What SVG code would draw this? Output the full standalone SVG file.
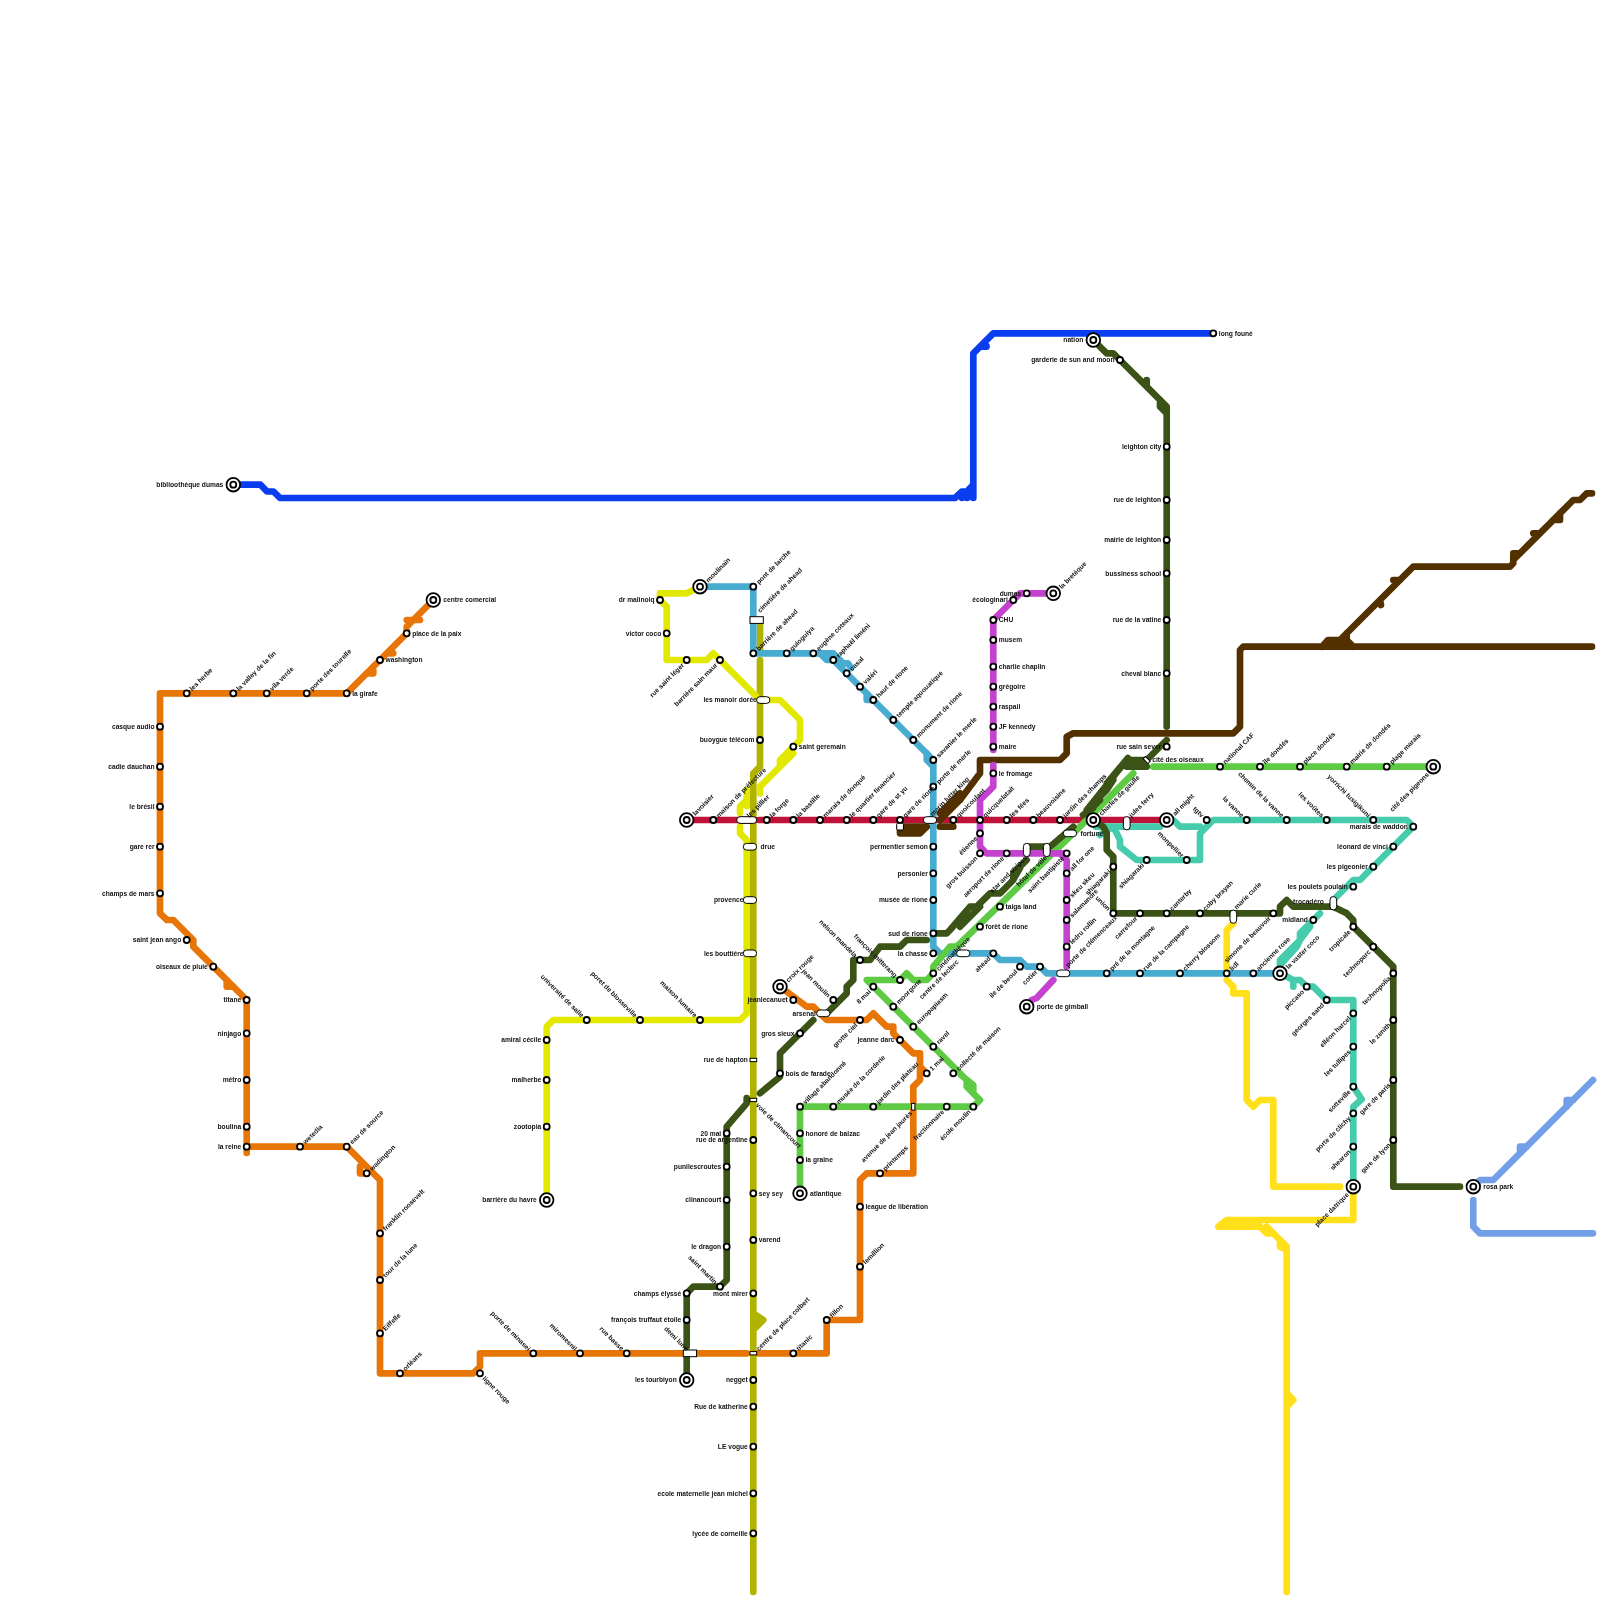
<svg xmlns="http://www.w3.org/2000/svg" width="1600" height="1600" viewBox="0 0 1600 1600">
<style>
.l{fill:none;stroke-width:6.67;stroke-linejoin:round;stroke-linecap:round}
.or{stroke:#e87508}.ly{stroke:#e3e800}.ol{stroke:#b0b300}.cy{stroke:#48abd0}.cr{stroke:#be1238}.br{stroke:#523000}.dg{stroke:#3b5317}.gr{stroke:#5fcb44}.te{stroke:#46cbac}.ma{stroke:#c343cf}.ye{stroke:#ffe01b}.bl{stroke:#0a3cf0}.lb{stroke:#729fe8}
.s{fill:#fff;stroke:#000;stroke-width:1.8}
.p{fill:#fff;stroke:#000;stroke-width:1}
#nodes{opacity:.999}
text{font-family:"Liberation Sans",Arial,sans-serif;font-size:6.67px;font-weight:bold;fill:#111}
.R{transform:translate(5.5px,2.4px)}
.L{text-anchor:end;transform:translate(-5.5px,2.4px)}
.UR{transform:translate(5.6px,-2.1px) rotate(-45deg)}
.DL{text-anchor:end;transform:translate(-2.1px,5.6px) rotate(-45deg)}
.UL{text-anchor:end;transform:translate(-5.6px,-2.1px) rotate(45deg)}
.DR{transform:translate(2.1px,5.6px) rotate(45deg)}
.TR{transform:translate(10px,2.4px)}
.TL{text-anchor:end;transform:translate(-10px,2.4px)}
.TUR{transform:translate(8.5px,-4px) rotate(-45deg)}
.TDL{text-anchor:end;transform:translate(-4px,8.5px) rotate(-45deg)}
</style>
<defs>
<circle id="s" class="s" r="3"/>
<g id="T"><circle class="s" r="6.8"/><circle class="s" r="3"/></g>
<rect id="ph" class="p" x="-6.7" y="-3.3" width="13.3" height="6.7" rx="3.3"/>
<rect id="pv" class="p" x="-3.3" y="-6.7" width="6.7" height="13.3" rx="3.3"/>
<rect id="r2" class="p" x="-3.3" y="-1.7" width="6.7" height="3.3"/>
</defs>
<g id="connectors">
<path id="line-royal" class="l bl" d="M233.3 484.7H260.5L267 491.5H273.5L280 498H955L962 491.5H967L973 485M973.3 498V353.3L980 346.7H986.5V346M980 346.7L993.3 333.3H1213.3M962 491.5V498M967 491.5V498"/>
<path id="line-lightblue" class="l lb" d="M1473.3 1186.7L1480 1180H1493.3L1593 1080M1520 1153.3V1146.7H1526.7M1566.7 1106.7V1100H1573.3M1473.3 1200V1226.7L1480 1233.3H1593"/>
<path id="line-olive" class="l ol" d="M760 623V650M760 660V766.7L753.3 773.3V1592M753.3 1313.3L763.3 1320L753.3 1330M756 1320H760"/>
<path id="line-lime" class="l ly" d="M700 586.7L686.7 593.3H660V600L666.7 606.7V660H706.7L713.3 653.3L720 660L756 696M766 700H780L800 720V740L780 760V766.7L760 786.7V793.3M793.3 753.3L776.7 770M746.7 790V800L740 806.7V813M746.7 800V806M740 826.7V833.3L746.7 840V1013.3L740 1020H553.3L546.7 1026.7V1200"/>
<path id="line-cyan" class="l cy" d="M700 586.7H753.3V653.3H833.3L843.3 663.3H848L851 668M820 653.3L826.7 660H833.3L933.3 760V946.7M866.7 693.3V700H873.3M926.7 753.3V760L933.3 766.7M933.3 946.7L940 953.3H993.3L1000 960H1020L1026.7 966.7H1040L1046.7 973.3H1058M1068 973.3H1280"/>
<path id="line-crimson" class="l cr" d="M686.7 820H755M759 820H925M938 820H1083M1093.3 820H1166.7"/>
<path id="line-brown" class="l br" d="M900 826.7V833.3H920L926.7 826.7M900 826.7H926.7M940 826.7H953.3M940 813.3L960 793.3V800M940 820L960 800L980 773.3V760H1060L1066.7 753.3V736.7L1073.3 733.3H1233.3L1240 726.7V650L1243.3 646.7H1592M1322 646.7L1328 640H1346.7M1340 640L1413.3 566.7H1510L1513.3 563.3V553.3M1513.3 560L1573.3 500H1580L1586.7 493.3H1592M1346.7 633.3V640L1353.3 646.7M1393.3 580H1400M1381 605L1380 600M1513.3 553.3H1520M1533.3 533.3H1540M1560 520V513.3M1553.3 520H1560"/>
<path id="line-green1" class="l gr" d="M1153.3 766.7H1433.3M1133.3 773.3L1080 826.7L956.7 946.7H950L933.3 966.7V973.3L926.7 980H913.3L906.7 973.3L900 980H866.7L966.7 1080V1086.7L980 1100L973.3 1106.7H800V1193.3M961 1075L973.3 1085V1093.3L980 1100"/>
<path id="line-teal" class="l te" d="M1096 826.7H1160M1100 835L1113.3 826.7L1116.7 833.3L1120 840V846.7L1136.7 860H1200V833.3L1213.3 820H1406.7L1413.3 826.7L1360 880H1353.3L1333.3 900M1173.3 820L1180 826.7H1200M1320 913.3L1300 933.3V940L1280 960V973.3M1310 926.7L1300 940L1296.7 946.7L1281.7 963.3M1280 973.3L1293.3 980H1300L1306.7 986.7H1313.3L1320 993.3L1326.7 1000H1353.3V1086.7L1361.7 1099.3L1353.3 1106.7V1186.7M1293.3 980V986.7"/>
<path id="line-magenta" class="l ma" d="M1053.3 593.3H1020L993.3 620V750M993.3 765V786.7L980 800V846.7L986.5 853.3H1063M1060 853.3L1066.7 860V966.7M1053.3 980L1036.7 998L1031.7 1000"/>
<path id="line-yellow" class="l ye" d="M1233.3 923.3L1226.7 930V973.3M1226.7 980L1233.3 986.7V993.3H1246.7V1100L1253.3 1106.7L1260 1100H1273.3V1186.7H1340M1353.3 1193.3V1220H1226.7L1218.3 1226.7H1260L1266.7 1233.3H1273.3L1280 1240V1246.7L1286.7 1250V1592M1286.7 1393L1293.3 1400L1286.7 1406.7M1289 1400H1291M1266.7 1226.7L1286.7 1246.7"/>
<path id="line-orange" class="l or" d="M433.3 600L406.7 626.7V633.3L380 660L346.7 693.3H160V913.3L167 920H173.3L193.3 940V946.7L246.7 1000V1153M420 620H406.7M393.3 653.3H386.7M373.3 673.3H366.7M373.3 666.7V673.3M226.7 980V986.7H233.3M246.7 1146.7H340L346.7 1146.7L380 1180V1373.3H473.3L480 1366.7V1353.3H747M758 1353.3H826.7V1320H860V1180L866.7 1173.3H913.3V1110M913.3 1103V1086.7L920 1080V1053.3H913.3L893.3 1033.3V1026.7H886.7L873.3 1013.3L866.7 1020H826.7L813.3 1006.7H806.7L780 986.7M360 1166.7V1173.3H366.7M920 1066.7L926.7 1073.3"/>
<path id="line-dark" class="l dg" d="M1093.3 340L1106.7 353.3H1113.3L1120 360L1146.7 386.7V380M1146.7 386.7L1166.7 406.7V726.7M1160 400V406.7L1166.7 413.3M1166.7 740L1146.7 760H1126.7L1086.7 810M1126.7 766.7H1146.7M1128 758L1106.7 783.3V790L1093.3 803.3V808L1083 815M1113.3 780L1106.7 790M1100 800L1093.3 806.7M1093.3 820L1103.3 826.7L1106.7 833.3V850L1113.3 856.7V913.3H1280V906.7L1286.7 900L1293.3 906.7H1333.3L1346.7 913.3L1353.3 920V926.7L1393.3 966.7V1186.7H1460M1073.3 826.7L1050 846.7H1030M1026.7 860L1013.3 873.3V880L1000 893.3H990L976.7 906.7H970L950 930L946.7 933.3H933.3M1020 868L1013 880M980 906.7L960 926.7M926.7 940H906.7L900 946.7H880L870 960H853.3V980L846.7 986.7V993.3L826.7 1013.3M813.3 1020L780 1053.3V1076.7L760 1093.3M746.7 1098V1103.3L726.7 1126.7V1280L720 1286.7H693.3L686.7 1293.3V1346.7M686.7 1357V1380"/>
</g>
<g id="nodes">
<g id="n001" transform="translate(233.3 484.7)"><use href="#T"/><text class="TL">biblioothèque dumas</text></g>
<g id="n002" transform="translate(1093.3 340)"><use href="#T"/><text class="TL">nation</text></g>
<g id="n003" transform="translate(1213.3 333.3)"><use href="#s"/><text class="R">long founé</text></g>
<g id="n004" transform="translate(1120 360)"><use href="#s"/><text class="L">garderie de sun and moon</text></g>
<g id="n005" transform="translate(1166.7 446.7)"><use href="#s"/><text class="L">leighton city</text></g>
<g id="n006" transform="translate(1166.7 500)"><use href="#s"/><text class="L">rue de leighton</text></g>
<g id="n007" transform="translate(1166.7 540)"><use href="#s"/><text class="L">mairie de leighton</text></g>
<g id="n008" transform="translate(1166.7 573.3)"><use href="#s"/><text class="L">bussiness school</text></g>
<g id="n009" transform="translate(1166.7 620)"><use href="#s"/><text class="L">rue de la vatine</text></g>
<g id="n010" transform="translate(1166.7 673.3)"><use href="#s"/><text class="L">cheval blanc</text></g>
<g id="n011" transform="translate(1166.7 746.7)"><use href="#s"/><text class="L">rue sain sever</text></g>
<g id="n012" transform="translate(1146.7 760)"><rect class="p" x="-1.7" y="-3.3" width="3.3" height="6.7" transform="rotate(-45)"/><text class="R">cité des oiseaux</text></g>
<g id="n013" transform="translate(660 600)"><use href="#s"/><text class="L">dr malinoiq</text></g>
<g id="n014" transform="translate(666.7 633.3)"><use href="#s"/><text class="L">victor coco</text></g>
<g id="n015" transform="translate(686.7 660)"><use href="#s"/><text class="DL">rue saint léger</text></g>
<g id="n016" transform="translate(720 660)"><use href="#s"/><text class="DL">barrière sain maur</text></g>
<g id="n017" transform="translate(700 586.7)"><use href="#T"/><text class="TUR">moulinain</text></g>
<g id="n018" transform="translate(753.3 586.7)"><use href="#s"/><text class="UR">pont de larche</text></g>
<g id="n019" transform="translate(756.7 620)"><rect class="p" x="-6.7" y="-3.3" width="13.3" height="6.7"/><text class="UR" x="2" y="-5">cimetière de ahead</text></g>
<g id="n020" transform="translate(753.3 653.3)"><use href="#s"/><text class="UR">barrière de ahead</text></g>
<g id="n021" transform="translate(786.7 653.3)"><use href="#s"/><text class="UR">guioguiya</text></g>
<g id="n022" transform="translate(813.3 653.3)"><use href="#s"/><text class="UR">eugène coteaux</text></g>
<g id="n023" transform="translate(833.3 660)"><use href="#s"/><text class="UR">raphaël liméni</text></g>
<g id="n024" transform="translate(846.7 673.3)"><use href="#s"/><text class="UR">casal</text></g>
<g id="n025" transform="translate(860 686.7)"><use href="#s"/><text class="UR">valéri</text></g>
<g id="n026" transform="translate(873.3 700)"><use href="#s"/><text class="UR">haut de rione</text></g>
<g id="n027" transform="translate(893.3 720)"><use href="#s"/><text class="UR">temple aquouatique</text></g>
<g id="n028" transform="translate(913.3 740)"><use href="#s"/><text class="UR">monument de rione</text></g>
<g id="n029" transform="translate(933.3 760)"><use href="#s"/><text class="UR">savanier le merle</text></g>
<g id="n030" transform="translate(933.3 786.7)"><use href="#s"/><text class="UR">porte de merle</text></g>
<g id="n031" transform="translate(763.3 700)"><use href="#ph"/><text class="L" x="-1">les manoir dorée</text></g>
<g id="n032" transform="translate(760 740)"><use href="#s"/><text class="L">buoygue télécom</text></g>
<g id="n033" transform="translate(793.3 746.7)"><use href="#s"/><text class="R">saint geremain</text></g>
<g id="n034" transform="translate(686.7 820)"><use href="#T"/><text class="TUR">lavoisier</text></g>
<g id="n035" transform="translate(713.3 820)"><use href="#s"/><text class="UR">maison de préfecture</text></g>
<g id="n036" transform="translate(746.7 820)"><rect class="p" x="-10" y="-3.3" width="20" height="6.7" rx="3.3"/><text class="UR" x="-2" y="-2">les pillier</text></g>
<g id="n037" transform="translate(766.7 820)"><use href="#s"/><text class="UR">la forge</text></g>
<g id="n038" transform="translate(793.3 820)"><use href="#s"/><text class="UR">la bastille</text></g>
<g id="n039" transform="translate(820 820)"><use href="#s"/><text class="UR">marais de donqué</text></g>
<g id="n040" transform="translate(846.7 820)"><use href="#s"/><text class="UR">le quartier financier</text></g>
<g id="n041" transform="translate(873.3 820)"><use href="#s"/><text class="UR">gare de st yu</text></g>
<g id="n042" transform="translate(900 820)"><use href="#s"/><rect class="p" x="-3.3" y="3.3" width="6.7" height="6.7" rx="1"/><text class="UR">gare de rione</text></g>
<g id="n043" transform="translate(930 820)"><use href="#ph"/><text class="UR" x="-1" y="-3">marin lutter king</text></g>
<g id="n044" transform="translate(953.3 820)"><use href="#s"/><text class="UR">quoicoulant</text></g>
<g id="n045" transform="translate(750 846.7)"><use href="#ph"/><text class="R" x="5">drue</text></g>
<g id="n046" transform="translate(933.3 846.7)"><use href="#s"/><text class="L">permentier semon</text></g>
<g id="n047" transform="translate(933.3 873.3)"><use href="#s"/><text class="L">personier</text></g>
<g id="n048" transform="translate(933.3 900)"><use href="#s"/><text class="L">musée de rione</text></g>
<g id="n049" transform="translate(933.3 933.3)"><use href="#s"/><text class="L">sud de rione</text></g>
<g id="n050" transform="translate(933.3 953.3)"><use href="#s"/><text class="L">la chasse</text></g>
<g id="n051" transform="translate(933.3 973.3)"><use href="#s"/><text class="UR">cinémathèque</text></g>
<g id="n052" transform="translate(963.3 953.3)"><use href="#ph"/><text class="DL" x="-4" y="1">centre de leclerc</text></g>
<g id="n053" transform="translate(750 900)"><use href="#ph"/><text class="L" x="-1">provence</text></g>
<g id="n054" transform="translate(750 953.3)"><use href="#ph"/><text class="L" x="-1">les bouttiére</text></g>
<g id="n055" transform="translate(1053.3 593.3)"><use href="#T"/><text class="TUR">la bretèque</text></g>
<g id="n056" transform="translate(1026.7 593.3)"><use href="#s"/><text class="L">dumas</text></g>
<g id="n057" transform="translate(1013.3 600)"><use href="#s"/><text class="L">écologinari</text></g>
<g id="n058" transform="translate(993.3 620)"><use href="#s"/><text class="R">CHU</text></g>
<g id="n059" transform="translate(993.3 640)"><use href="#s"/><text class="R">musem</text></g>
<g id="n060" transform="translate(993.3 666.7)"><use href="#s"/><text class="R">charlie chaplin</text></g>
<g id="n061" transform="translate(993.3 686.7)"><use href="#s"/><text class="R">grégoire</text></g>
<g id="n062" transform="translate(993.3 706.7)"><use href="#s"/><text class="R">raspail</text></g>
<g id="n063" transform="translate(993.3 726.7)"><use href="#s"/><text class="R">JF kennedy</text></g>
<g id="n064" transform="translate(993.3 746.7)"><use href="#s"/><text class="R">maire</text></g>
<g id="n065" transform="translate(993.3 773.3)"><use href="#s"/><text class="R">le fromage</text></g>
<g id="n066" transform="translate(980 820)"><use href="#s"/><text class="UR">quicquelatait</text></g>
<g id="n067" transform="translate(1006.7 820)"><use href="#s"/><text class="UR">les fées</text></g>
<g id="n068" transform="translate(1033.3 820)"><use href="#s"/><text class="UR">beauvoisine</text></g>
<g id="n069" transform="translate(1060 820)"><use href="#s"/><text class="UR">jardin des champs</text></g>
<g id="n070" transform="translate(1093.3 820)"><use href="#T"/><text class="TUR">charles de gaulle</text></g>
<g id="n071" transform="translate(980 833.3)"><use href="#s"/><text class="DL">étienne</text></g>
<g id="n072" transform="translate(980 853.3)"><use href="#s"/><text class="DL">gros buisson</text></g>
<g id="n073" transform="translate(1006.7 853.3)"><use href="#s"/><text class="DL">aeroport de rione</text></g>
<g id="n074" transform="translate(1026.7 850)"><use href="#pv"/><text class="DL" y="4">star and stripes</text></g>
<g id="n075" transform="translate(1046.7 850)"><use href="#pv"/><text class="DL" y="4">hôtel de ville</text></g>
<g id="n076" transform="translate(1070 833.3)"><use href="#ph"/><text class="R" x="5">fortune</text></g>
<g id="n077" transform="translate(1066.7 853.3)"><use href="#s"/><text class="DL">saint bastipiste</text></g>
<g id="n078" transform="translate(1066.7 873.3)"><use href="#s"/><text class="UR">all for one</text></g>
<g id="n079" transform="translate(1066.7 900)"><use href="#s"/><text class="UR">skeu skeu</text></g>
<g id="n080" transform="translate(1066.7 920)"><use href="#s"/><text class="UR">salamandre</text></g>
<g id="n081" transform="translate(1066.7 946.7)"><use href="#s"/><text class="UR">ledru rollin</text></g>
<g id="n082" transform="translate(1063.3 973.3)"><use href="#ph"/><text class="UR" x="2" y="-3">porte de clémenceaux</text></g>
<g id="n083" transform="translate(1000 906.7)"><use href="#s"/><text class="R">taiga land</text></g>
<g id="n084" transform="translate(980 926.7)"><use href="#s"/><text class="R">forêt de rione</text></g>
<g id="n085" transform="translate(993.3 953.3)"><use href="#s"/><text class="DL">ahead</text></g>
<g id="n086" transform="translate(1020 966.7)"><use href="#s"/><text class="DL">ile de beoul</text></g>
<g id="n087" transform="translate(1040 966.7)"><use href="#s"/><text class="DL">cotier</text></g>
<g id="n088" transform="translate(1106.7 973.3)"><use href="#s"/><text class="UR">pré de la montagne</text></g>
<g id="n089" transform="translate(1140 973.3)"><use href="#s"/><text class="UR">rue de la campagne</text></g>
<g id="n090" transform="translate(1180 973.3)"><use href="#s"/><text class="UR">cherry blossom</text></g>
<g id="n091" transform="translate(1113.3 866.7)"><use href="#s"/><text class="DL">shiagaraki</text></g>
<g id="n092" transform="translate(1113.3 913.3)"><use href="#s"/><text class="UL">union</text></g>
<g id="n093" transform="translate(1140 913.3)"><use href="#s"/><text class="DL">carrefour</text></g>
<g id="n094" transform="translate(1166.7 913.3)"><use href="#s"/><text class="UR">canterby</text></g>
<g id="n095" transform="translate(1166.7 820)"><use href="#T"/><text class="TUR">all might</text></g>
<g id="n096" transform="translate(1126.7 823.3)"><use href="#pv"/><text class="UR" x="2" y="-3">jules ferry</text></g>
<g id="n097" transform="translate(1146.7 860)"><use href="#s"/><text class="DL">shiagaraki</text></g>
<g id="n098" transform="translate(1186.7 860)"><use href="#s"/><text class="UL">monpellier</text></g>
<g id="n099" transform="translate(1026.7 1006.7)"><use href="#T"/><text class="TR">porte de gimball</text></g>
<g id="n100" transform="translate(860 960)"><use href="#s"/><text class="UL">nelson mandela</text></g>
<g id="n101" transform="translate(900 980)"><use href="#s"/><text class="UL">françois mitterang</text></g>
<g id="n102" transform="translate(873.3 986.7)"><use href="#s"/><text class="DL">8 mai</text></g>
<g id="n103" transform="translate(893.3 1006.7)"><use href="#s"/><text class="UR">moorgone</text></g>
<g id="n104" transform="translate(913.3 1026.7)"><use href="#s"/><text class="UR">europapiasm</text></g>
<g id="n105" transform="translate(933.3 1046.7)"><use href="#s"/><text class="UR">ravel</text></g>
<g id="n106" transform="translate(926.7 1073.3)"><use href="#s"/><text class="UR">1 mai</text></g>
<g id="n107" transform="translate(953.3 1073.3)"><use href="#s"/><text class="UR">collecté de maison</text></g>
<g id="n108" transform="translate(973.3 1106.7)"><use href="#s"/><text class="DL">école moulin</text></g>
<g id="n109" transform="translate(946.7 1106.7)"><use href="#s"/><text class="DL">fractionnaire</text></g>
<g id="n110" transform="translate(913.3 1106.7)"><rect class="p" x="-1.7" y="-3.3" width="3.3" height="6.7"/><text class="DL" y="2">avenue de jean jaurès</text></g>
<g id="n111" transform="translate(873.3 1106.7)"><use href="#s"/><text class="UR">jardin des plateau</text></g>
<g id="n112" transform="translate(833.3 1106.7)"><use href="#s"/><text class="UR">musée de la corderie</text></g>
<g id="n113" transform="translate(800 1106.7)"><use href="#s"/><text class="UR">village abandonné</text></g>
<g id="n114" transform="translate(800 1133.3)"><use href="#s"/><text class="R">honoré de balzac</text></g>
<g id="n115" transform="translate(800 1160)"><use href="#s"/><text class="R">la graine</text></g>
<g id="n116" transform="translate(800 1193.3)"><use href="#T"/><text class="TR">atlantique</text></g>
<g id="n117" transform="translate(780 986.7)"><use href="#T"/><text class="TUR">croix rouge</text></g>
<g id="n118" transform="translate(793.3 1000)"><use href="#s"/><text class="L">jeanlecanuet</text></g>
<g id="n119" transform="translate(833.3 1000)"><use href="#s"/><text class="UL">jean moulin</text></g>
<g id="n120" transform="translate(823.3 1013.3)"><use href="#ph"/><text class="L" x="-2">arsenal</text></g>
<g id="n121" transform="translate(800 1033.3)"><use href="#s"/><text class="L">gros sieux</text></g>
<g id="n122" transform="translate(860 1020)"><use href="#s"/><text class="DL">grotte ciel</text></g>
<g id="n123" transform="translate(900 1040)"><use href="#s"/><text class="L">jeanne darc</text></g>
<g id="n124" transform="translate(780 1073.3)"><use href="#s"/><text class="R">bois de farade</text></g>
<g id="n125" transform="translate(753.3 1060)"><use href="#r2"/><text class="L">rue de hapton</text></g>
<g id="n126" transform="translate(753.3 1100)"><use href="#r2"/><text class="DR">voie de clinancourt</text></g>
<g id="n127" transform="translate(880 1173.3)"><use href="#s"/><text class="UR">printemps</text></g>
<g id="n128" transform="translate(860 1206.7)"><use href="#s"/><text class="R">league de libération</text></g>
<g id="n129" transform="translate(860 1266.7)"><use href="#s"/><text class="UR">lemillion</text></g>
<g id="n130" transform="translate(753.3 1140)"><use href="#s"/><text class="L">rue de argentine</text></g>
<g id="n131" transform="translate(726.7 1133.3)"><use href="#s"/><text class="L">20 mai</text></g>
<g id="n132" transform="translate(726.7 1166.7)"><use href="#s"/><text class="L">punilescroutes</text></g>
<g id="n133" transform="translate(726.7 1200)"><use href="#s"/><text class="L">clinancourt</text></g>
<g id="n134" transform="translate(753.3 1193.3)"><use href="#s"/><text class="R">sey sey</text></g>
<g id="n135" transform="translate(753.3 1240)"><use href="#s"/><text class="R">varend</text></g>
<g id="n136" transform="translate(726.7 1246.7)"><use href="#s"/><text class="L">le dragon</text></g>
<g id="n137" transform="translate(720 1286.7)"><use href="#s"/><text class="UL">saint martin</text></g>
<g id="n138" transform="translate(686.7 1293.3)"><use href="#s"/><text class="L">champs élyssé</text></g>
<g id="n139" transform="translate(753.3 1293.3)"><use href="#s"/><text class="L">mont mirer</text></g>
<g id="n140" transform="translate(686.7 1320)"><use href="#s"/><text class="L">françois truffaut étoile</text></g>
<g id="n141" transform="translate(690 1353.3)"><rect class="p" x="-6.7" y="-3.3" width="13.3" height="6.7"/><text class="UL" x="1" y="-1">demi lune</text></g>
<g id="n142" transform="translate(753.3 1353.3)"><use href="#r2"/><text class="UR">centre de place colbert</text></g>
<g id="n143" transform="translate(793.3 1353.3)"><use href="#s"/><text class="UR">titanic</text></g>
<g id="n144" transform="translate(826.7 1320)"><use href="#s"/><text class="UR">fillon</text></g>
<g id="n145" transform="translate(686.7 1380)"><use href="#T"/><text class="TL">les tourbiyon</text></g>
<g id="n146" transform="translate(753.3 1380)"><use href="#s"/><text class="L">negget</text></g>
<g id="n147" transform="translate(753.3 1406.7)"><use href="#s"/><text class="L">Rue de katherine</text></g>
<g id="n148" transform="translate(753.3 1446.7)"><use href="#s"/><text class="L">LE vogue</text></g>
<g id="n149" transform="translate(753.3 1493.3)"><use href="#s"/><text class="L">ecole maternelle jean michel</text></g>
<g id="n150" transform="translate(753.3 1533.3)"><use href="#s"/><text class="L">lycée de corneille</text></g>
<g id="n151" transform="translate(186.7 693.3)"><use href="#s"/><text class="UR">les herbe</text></g>
<g id="n152" transform="translate(233.3 693.3)"><use href="#s"/><text class="UR">la valley de la fin</text></g>
<g id="n153" transform="translate(266.7 693.3)"><use href="#s"/><text class="UR">vila verde</text></g>
<g id="n154" transform="translate(306.7 693.3)"><use href="#s"/><text class="UR">porte des tourelle</text></g>
<g id="n155" transform="translate(346.7 693.3)"><use href="#s"/><text class="R">la girafe</text></g>
<g id="n156" transform="translate(380 660)"><use href="#s"/><text class="R">washington</text></g>
<g id="n157" transform="translate(406.7 633.3)"><use href="#s"/><text class="R">place de la paix</text></g>
<g id="n158" transform="translate(433.3 600)"><use href="#T"/><text class="TR">centre comercial</text></g>
<g id="n159" transform="translate(160 726.7)"><use href="#s"/><text class="L">casque audio</text></g>
<g id="n160" transform="translate(160 766.7)"><use href="#s"/><text class="L">cadie dauchan</text></g>
<g id="n161" transform="translate(160 806.7)"><use href="#s"/><text class="L">le brésil</text></g>
<g id="n162" transform="translate(160 846.7)"><use href="#s"/><text class="L">gare rer</text></g>
<g id="n163" transform="translate(160 893.3)"><use href="#s"/><text class="L">champs de mars</text></g>
<g id="n164" transform="translate(186.7 940)"><use href="#s"/><text class="L">saint jean ango</text></g>
<g id="n165" transform="translate(213.3 966.7)"><use href="#s"/><text class="L">oiseaux de pluie</text></g>
<g id="n166" transform="translate(246.7 1000)"><use href="#s"/><text class="L">titane</text></g>
<g id="n167" transform="translate(246.7 1033.3)"><use href="#s"/><text class="L">ninjago</text></g>
<g id="n168" transform="translate(246.7 1080)"><use href="#s"/><text class="L">métro</text></g>
<g id="n169" transform="translate(246.7 1126.7)"><use href="#s"/><text class="L">boulina</text></g>
<g id="n170" transform="translate(246.7 1146.7)"><use href="#s"/><text class="L">la reine</text></g>
<g id="n171" transform="translate(300 1146.7)"><use href="#s"/><text class="UR">wetedia</text></g>
<g id="n172" transform="translate(346.7 1146.7)"><use href="#s"/><text class="UR">eau de source</text></g>
<g id="n173" transform="translate(366.7 1173.3)"><use href="#s"/><text class="UR">wadington</text></g>
<g id="n174" transform="translate(380 1233.3)"><use href="#s"/><text class="UR">franklin roosevelt</text></g>
<g id="n175" transform="translate(380 1280)"><use href="#s"/><text class="UR">tour de la lune</text></g>
<g id="n176" transform="translate(380 1333.3)"><use href="#s"/><text class="UR">Eiffelle</text></g>
<g id="n177" transform="translate(400 1373.3)"><use href="#s"/><text class="UR">orléans</text></g>
<g id="n178" transform="translate(480 1373.3)"><use href="#s"/><text class="DR">ligne rouge</text></g>
<g id="n179" transform="translate(533.3 1353.3)"><use href="#s"/><text class="UL">porte de minasei</text></g>
<g id="n180" transform="translate(580 1353.3)"><use href="#s"/><text class="UL">miromesnil</text></g>
<g id="n181" transform="translate(626.7 1353.3)"><use href="#s"/><text class="UL">rue basse</text></g>
<g id="n182" transform="translate(546.7 1040)"><use href="#s"/><text class="L">amiral cécile</text></g>
<g id="n183" transform="translate(546.7 1080)"><use href="#s"/><text class="L">malherbe</text></g>
<g id="n184" transform="translate(546.7 1126.7)"><use href="#s"/><text class="L">zootopia</text></g>
<g id="n185" transform="translate(546.7 1200)"><use href="#T"/><text class="TL">barrière du havre</text></g>
<g id="n186" transform="translate(586.7 1020)"><use href="#s"/><text class="UL">université de salle</text></g>
<g id="n187" transform="translate(640 1020)"><use href="#s"/><text class="UL">poret de blosseville</text></g>
<g id="n188" transform="translate(700 1020)"><use href="#s"/><text class="UL">maison lumaire</text></g>
<g id="n189" transform="translate(1220 766.7)"><use href="#s"/><text class="UR">national CAF</text></g>
<g id="n190" transform="translate(1260 766.7)"><use href="#s"/><text class="UR">île dondés</text></g>
<g id="n191" transform="translate(1300 766.7)"><use href="#s"/><text class="UR">place dondés</text></g>
<g id="n192" transform="translate(1346.7 766.7)"><use href="#s"/><text class="UR">mairie de dondés</text></g>
<g id="n193" transform="translate(1386.7 766.7)"><use href="#s"/><text class="UR">plage marais</text></g>
<g id="n194" transform="translate(1433.3 766.7)"><use href="#T"/><text class="TDL">cité des pigeons</text></g>
<g id="n195" transform="translate(1206.7 820)"><use href="#s"/><text class="UL">tgtv</text></g>
<g id="n196" transform="translate(1246.7 820)"><use href="#s"/><text class="UL">la vanne</text></g>
<g id="n197" transform="translate(1286.7 820)"><use href="#s"/><text class="UL">chemin de la vanne</text></g>
<g id="n198" transform="translate(1326.7 820)"><use href="#s"/><text class="UL">les voûtes</text></g>
<g id="n199" transform="translate(1373.3 820)"><use href="#s"/><text class="UL">yorrichi tusigikuni</text></g>
<g id="n200" transform="translate(1413.3 826.7)"><use href="#s"/><text class="L">marais de waddon</text></g>
<g id="n201" transform="translate(1393.3 846.7)"><use href="#s"/><text class="L">léonard de vinci</text></g>
<g id="n202" transform="translate(1373.3 866.7)"><use href="#s"/><text class="L">les pigeonier</text></g>
<g id="n203" transform="translate(1353.3 886.7)"><use href="#s"/><text class="L">les poulets poulain</text></g>
<g id="n204" transform="translate(1333.3 903.3)"><use href="#pv"/><text class="L" x="-4" y="-2">trocadéro</text></g>
<g id="n205" transform="translate(1313.3 920)"><use href="#s"/><text class="L">midland</text></g>
<g id="n206" transform="translate(1353.3 926.7)"><use href="#s"/><text class="DL">tropicale</text></g>
<g id="n207" transform="translate(1373.3 946.7)"><use href="#s"/><text class="DL">technoparc</text></g>
<g id="n208" transform="translate(1393.3 973.3)"><use href="#s"/><text class="DL">technopolia</text></g>
<g id="n209" transform="translate(1393.3 1020)"><use href="#s"/><text class="DL">le zenith</text></g>
<g id="n210" transform="translate(1393.3 1080)"><use href="#s"/><text class="DL">gare de paris</text></g>
<g id="n211" transform="translate(1393.3 1140)"><use href="#s"/><text class="DL">gare de lyon</text></g>
<g id="n212" transform="translate(1200 913.3)"><use href="#s"/><text class="UR">coby brayan</text></g>
<g id="n213" transform="translate(1233.3 916.7)"><use href="#pv"/><text class="UR" x="2" y="-5">marie curie</text></g>
<g id="n214" transform="translate(1273.3 913.3)"><use href="#s"/><text class="DL">simone de beauvoir</text></g>
<g id="n215" transform="translate(1226.7 973.3)"><use href="#s"/><text class="UR">lidl</text></g>
<g id="n216" transform="translate(1253.3 973.3)"><use href="#s"/><text class="UR">ancienne rose</text></g>
<g id="n217" transform="translate(1280 973.3)"><use href="#T"/><text class="TUR">la vaster coco</text></g>
<g id="n218" transform="translate(1306.7 986.7)"><use href="#s"/><text class="DL">piccaso</text></g>
<g id="n219" transform="translate(1326.7 1000)"><use href="#s"/><text class="DL">georges sand</text></g>
<g id="n220" transform="translate(1353.3 1013.3)"><use href="#s"/><text class="DL">elléon harcel</text></g>
<g id="n221" transform="translate(1353.3 1046.7)"><use href="#s"/><text class="DL">les tullipes</text></g>
<g id="n222" transform="translate(1353.3 1086.7)"><use href="#s"/><text class="DL">sotteville</text></g>
<g id="n223" transform="translate(1353.3 1113.3)"><use href="#s"/><text class="DL">porte de clichy</text></g>
<g id="n224" transform="translate(1353.3 1146.7)"><use href="#s"/><text class="DL">shearon</text></g>
<g id="n225" transform="translate(1353.3 1186.7)"><use href="#T"/><text class="TDL">place datrique</text></g>
<g id="n226" transform="translate(1473.3 1186.7)"><use href="#T"/><text class="TR">rosa park</text></g>
</g>
</svg>
